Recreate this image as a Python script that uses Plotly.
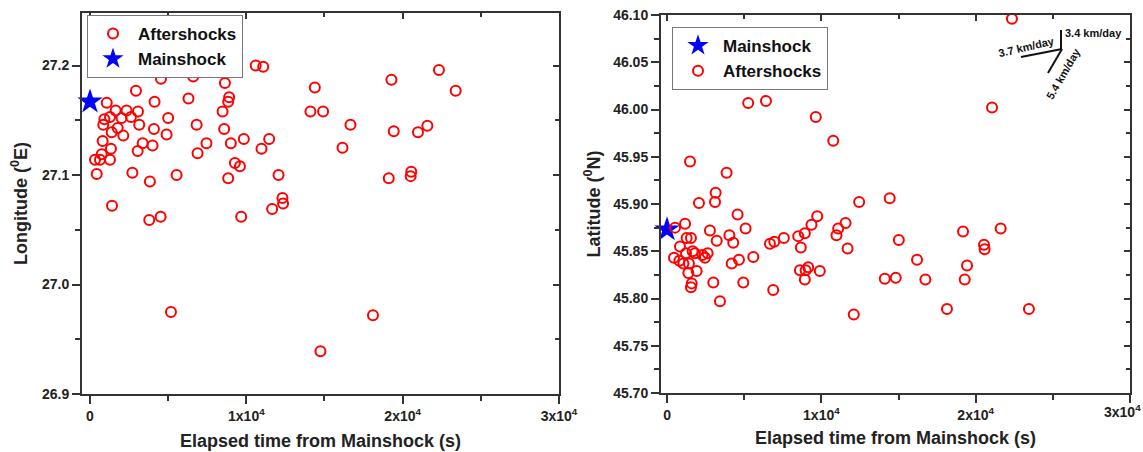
import plotly.graph_objects as go

# ---------------- data ----------------
left_time = [10600, 11080, 4540, 6600, 8630, 2940, 8900, 8840, 4130, 6300,
             1070, 1640, 2340, 3070, 8480, 920, 1280, 2020, 2620, 5000,
             850, 3150, 6820, 1390, 1770, 2130, 4090, 4900, 8580, 810,
             3370, 4000, 7450, 9010, 9840, 11460, 1340, 3050, 6880, 10970,
             750, 320, 640, 1280, 9270, 9590, 430, 2710, 5540, 12060,
             3830, 8840, 1410, 3790, 4520, 9670, 11650, 12310, 12350, 14380,
             14100, 14910, 16660, 16150, 19280, 22320, 23390, 19430, 20980, 21580,
             19110, 20550, 20510, 5180, 14740, 18100]
left_lon = [27.200, 27.199, 27.188, 27.190, 27.184, 27.177, 27.171, 27.167, 27.167, 27.170,
            27.166, 27.159, 27.159, 27.158, 27.158, 27.151, 27.153, 27.152, 27.153, 27.152,
            27.146, 27.146, 27.146, 27.139, 27.143, 27.136, 27.142, 27.137, 27.142, 27.131,
            27.129, 27.127, 27.129, 27.129, 27.133, 27.133, 27.124, 27.122, 27.120, 27.124,
            27.119, 27.114, 27.114, 27.114, 27.111, 27.108, 27.101, 27.102, 27.100, 27.100,
            27.094, 27.097, 27.072, 27.059, 27.062, 27.062, 27.069, 27.079, 27.074, 27.180,
            27.158, 27.158, 27.146, 27.125, 27.187, 27.196, 27.177, 27.140, 27.139, 27.145,
            27.097, 27.103, 27.099, 26.975, 26.939, 26.972]

right_time = [5260, 6410, 9640, 10770, 1490, 3860, 3150, 2070, 3110, 12450,
              4570, 9730, 520, 1170, 2780, 3220, 4040, 4290, 5090, 1270,
              1550, 840, 450, 800, 1060, 1230, 1420, 1380, 1660, 1810,
              1920, 1600, 1550, 2290, 2460, 2630, 3000, 3430, 4190, 4660,
              4940, 5590, 6670, 6950, 7570, 6880, 8500, 8670, 8930, 9360,
              8610, 8980, 9150, 8930, 9900, 10980, 11090, 11570, 11700, 12100,
              22350, 21060, 14430, 15020, 19180, 21620, 20540, 20580, 16200, 19440,
              14110, 14820, 16740, 19290, 18140, 23450]
right_lat = [46.007, 46.009, 45.992, 45.967, 45.945, 45.933, 45.912, 45.901, 45.902, 45.902,
             45.889, 45.887, 45.875, 45.879, 45.872, 45.861, 45.867, 45.859, 45.874, 45.864,
             45.864, 45.855, 45.843, 45.840, 45.837, 45.848, 45.837, 45.827, 45.850, 45.848,
             45.829, 45.816, 45.812, 45.846, 45.843, 45.848, 45.817, 45.797, 45.837, 45.841,
             45.817, 45.844, 45.858, 45.860, 45.864, 45.809, 45.866, 45.854, 45.869, 45.878,
             45.830, 45.830, 45.833, 45.820, 45.829, 45.867, 45.874, 45.880, 45.853, 45.783,
             46.096, 46.002, 45.906, 45.862, 45.871, 45.874, 45.857, 45.852, 45.841, 45.835,
             45.821, 45.822, 45.820, 45.820, 45.789, 45.789]

main_time = [0]
main_lon = [27.167]
main_lat = [45.873]

x_tickvals = [0, 10000, 20000, 30000]
x_ticktext = ["0", "1x10<sup>4</sup>", "2x10<sup>4</sup>", "3x10<sup>4</sup>"]
x_minor = [5000, 15000, 25000]
lon_ticks = [26.9, 27.0, 27.1, 27.2]
lon_minor = [26.95, 27.05, 27.15]
lat_ticks = [45.70, 45.75, 45.80, 45.85, 45.90, 45.95, 46.00, 46.05, 46.10]
lat_minor = [45.725, 45.775, 45.825, 45.875, 45.925, 45.975, 46.025, 46.075]

W, H = 1143, 452
FONT = "Liberation Sans, Arial, sans-serif"
LC = "#333333"

fig = go.Figure()
after_marker = dict(symbol="circle-open", size=10, color="#ff0000", line=dict(width=2, color="#ff0000"))
star_marker = dict(symbol="star", size=19, color="#0000ff", line=dict(width=0))

# frame carriers (top / right axes with inward ticks)
fig.add_trace(go.Scatter(x=[], y=[], mode="markers", xaxis="x3", yaxis="y3", showlegend=False, hoverinfo="skip"))
fig.add_trace(go.Scatter(x=[], y=[], mode="markers", xaxis="x4", yaxis="y4", showlegend=False, hoverinfo="skip"))

fig.add_trace(go.Scatter(x=left_time, y=left_lon, mode="markers", name="Aftershocks",
                         marker=after_marker, xaxis="x", yaxis="y", legend="legend"))
fig.add_trace(go.Scatter(x=main_time, y=main_lon, mode="markers", name="Mainshock",
                         marker=star_marker, xaxis="x", yaxis="y", legend="legend", cliponaxis=False))
fig.add_trace(go.Scatter(x=main_time, y=main_lat, mode="markers", name="Mainshock",
                         marker=star_marker, xaxis="x2", yaxis="y2", legend="legend2", cliponaxis=False))
fig.add_trace(go.Scatter(x=right_time, y=right_lat, mode="markers", name="Aftershocks",
                         marker=after_marker, xaxis="x2", yaxis="y2", legend="legend2"))

tickfont = dict(family=FONT, size=14, color="#222", weight="bold")
titlefont = dict(family=FONT, size=18, color="#222", weight="bold")
mtick = dict(ticks="outside", ticklen=5, tickcolor=LC, tickwidth=1.5)
itick = dict(ticks="inside", ticklen=4, tickcolor=LC, tickwidth=1.5)


def base_axis(**kw):
    d = dict(showline=True, linewidth=2, linecolor=LC, showgrid=False, zeroline=False, automargin=False,
             mirror=True, ticks="outside", ticklen=8, tickwidth=1.5, tickcolor=LC, tickfont=tickfont,
             ticklabeloverflow="allow")
    d.update(kw)
    return d


def mirror_axis(**kw):
    d = dict(showline=True, linewidth=2, linecolor=LC, showgrid=False, zeroline=False, automargin=False,
             ticks="inside", ticklen=6, tickwidth=1.5, tickcolor=LC, showticklabels=False, fixedrange=True)
    d.update(kw)
    return d


ldom_x = [82 / W, 559 / W]
ldom_y = [1 - 394 / H, 1 - 13 / H]
rdom_x = [661 / W, 1130 / W]
rdom_y = [1 - 393 / H, 1 - 15 / H]
lxr = [-511, 30000]
lyr = [26.9, 27.248]
rxr = [-390, 30000]
ryr = [45.70, 46.10]

legfont = dict(family=FONT, size=17, color="#111", weight="bold")

# right panel: the last label sits at the page edge, so it is drawn right-aligned instead
right_ticktext = x_ticktext[:-1] + [""]

fig.update_layout(
    width=W, height=H, margin=dict(l=0, r=0, t=0, b=0, autoexpand=False),
    paper_bgcolor="white", plot_bgcolor="rgba(0,0,0,0)",
    xaxis=base_axis(domain=ldom_x, anchor="y", range=lxr, tickvals=x_tickvals, ticktext=x_ticktext,
                    minor=dict(tickvals=x_minor, **mtick),
                    title=dict(text="Elapsed time from Mainshock (s)", font=titlefont, standoff=12)),
    yaxis=base_axis(domain=ldom_y, anchor="x", range=lyr, tickvals=lon_ticks, tickformat=".1f",
                    minor=dict(tickvals=lon_minor, **mtick),
                    title=dict(text="Longitude (<sup>0</sup>E)", font=titlefont, standoff=10)),
    xaxis2=base_axis(domain=rdom_x, anchor="y2", range=rxr, tickvals=x_tickvals, ticktext=right_ticktext,
                     minor=dict(tickvals=x_minor, **mtick),
                     title=dict(text="Elapsed time from Mainshock (s)", font=titlefont, standoff=10)),
    yaxis2=base_axis(domain=rdom_y, anchor="x2", range=ryr, tickvals=lat_ticks, tickformat=".2f",
                     minor=dict(tickvals=lat_minor, **mtick),
                     title=dict(text="Latitude (<sup>0</sup>N)", font=titlefont, standoff=8)),
    xaxis3=mirror_axis(domain=ldom_x, side="top", anchor="y3", range=lxr, tickvals=x_tickvals,
                       minor=dict(tickvals=x_minor, **itick)),
    yaxis3=mirror_axis(domain=ldom_y, side="right", anchor="x3", range=lyr, tickvals=lon_ticks,
                       minor=dict(tickvals=lon_minor, **itick)),
    xaxis4=mirror_axis(domain=rdom_x, side="top", anchor="y4", range=rxr, tickvals=x_tickvals,
                       minor=dict(tickvals=x_minor, **itick)),
    yaxis4=mirror_axis(domain=rdom_y, side="right", anchor="x4", range=ryr, tickvals=lat_ticks,
                       minor=dict(tickvals=lat_minor, **itick)),
    legend=dict(x=87 / W, y=1 - 15 / H, xanchor="left", yanchor="top", bgcolor="white",
                bordercolor="#777", borderwidth=1, font=legfont, tracegroupgap=0, itemwidth=40),
    legend2=dict(x=672 / W, y=1 - 27 / H, xanchor="left", yanchor="top", bgcolor="white",
                 bordercolor="#777", borderwidth=1, font=legfont, tracegroupgap=0, itemwidth=40),
    showlegend=True,
)


def P(px, py):
    return px / W, 1 - py / H


ax, ay = P(1142, 411)
fig.add_annotation(xref="paper", yref="paper", x=ax, y=ay, text=x_ticktext[-1], showarrow=False,
                   xanchor="right", yanchor="middle", font=tickfont, borderpad=0)

# velocity indicator (decoration) in the right panel
segs = [((1061, 30), (1061, 50)), ((1021, 57), (1062, 49)), ((1062, 49), (1048, 73))]
for (a, b) in segs:
    x0, y0 = P(*a)
    x1, y1 = P(*b)
    fig.add_shape(type="line", xref="paper", yref="paper", x0=x0, y0=y0, x1=x1, y1=y1,
                  line=dict(color="#111", width=2))

afont = dict(family=FONT, size=11, color="#111", weight="bold")
ax, ay = P(1063, 33)
fig.add_annotation(xref="paper", yref="paper", x=ax, y=ay, text="3.4 km/day", showarrow=False,
                   xanchor="left", yanchor="middle", font=afont)
ax, ay = P(1026, 47)
fig.add_annotation(xref="paper", yref="paper", x=ax, y=ay, text="3.7 km/day", showarrow=False,
                   xanchor="center", yanchor="middle", textangle=-13, font=afont)
ax, ay = P(1063, 74)
fig.add_annotation(xref="paper", yref="paper", x=ax, y=ay, text="5.4 km/day", showarrow=False,
                   xanchor="center", yanchor="middle", textangle=-60, font=afont)

fig.write_html("out.html")
